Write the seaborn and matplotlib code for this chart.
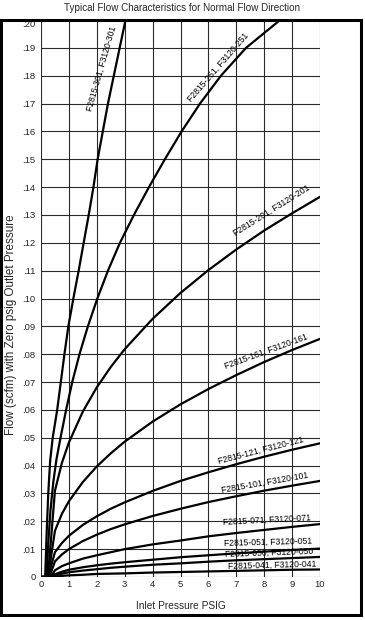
import matplotlib
matplotlib.use("Agg")
import matplotlib.pyplot as plt
import seaborn as sns
import pandas as pd
from matplotlib.patches import Rectangle

# ---------------- data ----------------
x_common = [0.5, 0.75, 1, 1.5, 2, 2.5, 3, 4, 5, 6, 7, 8, 9, 10]

x_301 = [0, 0.15, 0.20, 0.26, 0.33, 0.42, 0.58, 0.71, 0.84, 0.98, 1.16, 1.35, 1.53, 1.71, 1.88, 2.03, 2.40, 3.03]
y_301 = [0, 0, .015, .030, .042, .050, .060, .070, .080, .090, .100, .110, .120, .130, .140, .150, .170, .200]

x_251 = [0, 0.20, 0.26, 0.34, 0.44, 0.55, 0.70, 0.90, 1.12, 1.38, 1.68, 2.02, 2.40, 2.83, 3.33, 3.87, 4.44, 5.04, 5.70, 6.45, 7.35, 8.57]
y_251 = [0, 0, .012, .024, .034, .042, .050, .060, .070, .080, .090, .100, .110, .120, .130, .140, .150, .160, .170, .180, .190, .200]

y_201 = [.0310, .0410, .0483, .0594, .0681, .0754, .0818, .0927, .1020, .1102, .1176, .1244, .1306, .1365]
y_161 = [.0166, .0227, .0272, .0341, .0397, .0444, .0486, .0558, .0620, .0675, .0725, .0772, .0815, .0855]
y_121 = [.0089, .0122, .0148, .0187, .0218, .0245, .0268, .0309, .0345, .0376, .0405, .0432, .0457, .0480]
y_101 = [.0056, .0081, .0100, .0129, .0152, .0172, .0189, .0219, .0245, .0269, .0290, .0310, .0328, .0345]
y_071 = [.0024, .0039, .0049, .0066, .0078, .0089, .0100, .0117, .0131, .0146, .0158, .0169, .0180, .0190]
y_051 = [.0010, .0019, .0026, .0035, .0042, .0048, .0053, .0062, .0071, .0078, .0085, .0091, .0097, .0102]
y_050 = [.0005, .0012, .0017, .0023, .0028, .0033, .0037, .0044, .0049, .0055, .0060, .0064, .0068, .0072]
y_041 = [.0000, .0004, .0006, .0008, .0011, .0012, .0013, .0016, .0018, .0020, .0022, .0024, .0026, .0027]

start_201, start_161, start_121, start_101 = 0.25, 0.25, 0.25, 0.30
start_071, start_051, start_050, start_041 = 0.35, 0.40, 0.45, 0.50

labels = ["F2815-301, F3120-301", "F2815-251, F3120-251", "F2815-201, F3120-201",
          "F2815-161, F3120-161", "F2815-121, F3120-121", "F2815-101, F3120-101",
          "F2815-071, F3120-071", "F2815-051, F3120-051", "F2815-050, F3120-050",
          "F2815-041, F3120-041"]
# label centre (data coords) and on-screen rotation
label_x = [2.18, 6.35, 8.26, 8.08, 7.88, 8.03, 8.09, 8.14, 8.17, 8.30]
label_y = [.1825, .1831, .1315, .0808, .0455, .0337, .0205, .0125, .0087, .0043]
label_rot = [74, 49, 32, 20, 14.5, 10, 3, 1.5, 2, 1.5]

x_ticks = list(range(0, 11))
x_tick_labels = [str(v) for v in x_ticks]
y_ticks = [i / 100 for i in range(0, 21)]
y_tick_labels = ["0"] + [".%02d" % i for i in range(1, 21)]

# ---------------- build long table ----------------
rows = []
def add(name, xs, ys):
    for a, b in zip(xs, ys):
        rows.append((name, a, b))

add("301", x_301, y_301)
add("251", x_251, y_251)
for name, x0, ys in [("201", start_201, y_201), ("161", start_161, y_161),
                     ("121", start_121, y_121), ("101", start_101, y_101),
                     ("071", start_071, y_071), ("051", start_051, y_051),
                     ("050", start_050, y_050), ("041", start_041, y_041)]:
    add(name, [0, x0] + x_common, [0, 0] + ys)
df = pd.DataFrame(rows, columns=["model", "x", "y"])

# ---------------- figure ----------------
sns.set_style("white")
plt.rcParams["font.family"] = ["Liberation Sans", "DejaVu Sans"]

W, H = 365, 620
fig = plt.figure(figsize=(W / 100, H / 100), dpi=100)
ax = fig.add_axes([41 / W, 1 - 577 / H, (320 - 41) / W, (577 - 20) / H])

sns.lineplot(data=df, x="x", y="y", units="model", estimator=None, sort=False,
             color="black", linewidth=1.6, ax=ax)

ax.set_xlim(0, 10)
ax.set_ylim(0, 0.20)
ax.set_xticks(x_ticks)
ax.set_xticklabels(x_tick_labels, fontsize=6.8)
ax.set_yticks(y_ticks)
ax.set_yticklabels(y_tick_labels, fontsize=6.8)
ax.tick_params(axis="y", length=0, pad=4)
ax.tick_params(axis="x", length=0, pad=2.5)
ax.get_yticklabels()[-1].set_va("top")
ax.grid(True, color="#2a2a2a", linewidth=0.8)
ax.set_axisbelow(True)
for s in ax.spines.values():
    s.set_visible(False)

ax.set_xlabel("Inlet Pressure PSIG", fontsize=7.3, labelpad=8)
ax.set_ylabel("")
fig.text(11 / W, 1 - 325 / H, "Flow (scfm) with Zero psig Outlet Pressure",
         fontsize=8.4, rotation=90, ha="center", va="center")

for t, lx, ly, r in zip(labels, label_x, label_y, label_rot):
    ax.text(lx, ly, t, fontsize=6.2, rotation=r, rotation_mode="anchor",
            ha="center", va="center", color="black")

# outer frame
fig.patches.append(Rectangle((1.5 / W, 1 - 615 / H), (360.5 - 1.5) / W, (615 - 20) / H,
                             transform=fig.transFigure, fill=False,
                             edgecolor="black", linewidth=2.2, zorder=10))

fig.text(182 / W, 1 - 8 / H, "Typical Flow Characteristics for Normal Flow Direction",
         fontsize=7.1, ha="center", va="center")

fig.savefig("out.png", dpi=100)
